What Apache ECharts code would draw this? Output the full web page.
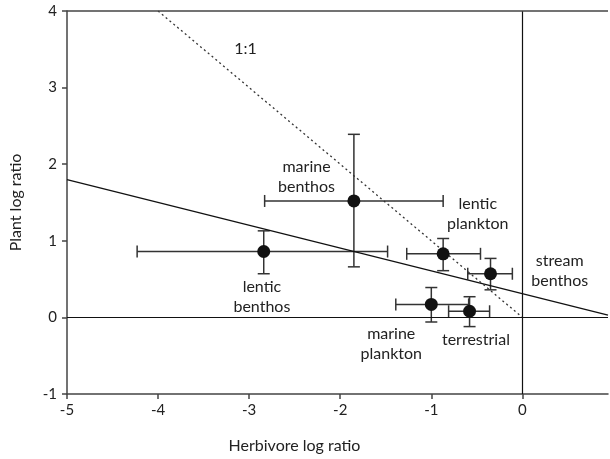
<!DOCTYPE html>
<html>
<head>
<meta charset="utf-8">
<script src="https://cdn.jsdelivr.net/npm/echarts@6/dist/echarts.min.js"></script>
<style>
  html, body { margin: 0; padding: 0; background: #fff; }
  #chart { width: 610px; height: 459px; }
</style>
</head>
<body>
<div id="chart"></div>
<script>
// groups and their means / error ranges (herbivore = x, plant = y)
const groups = ['lentic benthos', 'marine benthos', 'lentic plankton', 'stream benthos', 'marine plankton', 'terrestrial']
const herbMean = [-2.84, -1.85, -0.87, -0.35, -1.0, -0.58]
const herbLow = [-4.23, -2.83, -1.27, -0.6, -1.39, -0.81]
const herbHigh = [-1.48, -0.87, -0.46, -0.11, -0.59, -0.36]
const plantMean = [0.86, 1.52, 0.83, 0.57, 0.17, 0.08]
const plantLow = [0.57, 0.66, 0.61, 0.36, -0.06, -0.12]
const plantHigh = [1.13, 2.39, 1.03, 0.77, 0.39, 0.27]

// regression line and 1:1 line end points
const fitLine = [[-5, 1.8], [0.94, 0.03]]
const oneToOne = [[-4, 4], [0, 0]]

// label anchors (text, x, y)
const labelText = ['marine\nbenthos', 'lentic\nbenthos', 'lentic\nplankton', 'stream\nbenthos', 'marine\nplankton', 'terrestrial', '1:1']
const labelX = [-2.37, -2.86, -0.49, 0.41, -1.44, -0.51, -3.04]
const labelY = [1.83, 0.27, 1.35, 0.61, -0.35, -0.29, 3.51]

const xTicks = { min: -5, max: 0.94, interval: 1 }
const yTicks = { min: -1, max: 4, interval: 1 }

const font = 'Lato'
const textColor = '#222'
const axisColor = '#444'

const chart = echarts.init(document.getElementById('chart'))

const errData = groups.map((g, i) => [herbMean[i], plantMean[i], herbLow[i], herbHigh[i], plantLow[i], plantHigh[i]])

function renderErr(params, api) {
  const c = api.coord([api.value(0), api.value(1)])
  const xl = api.coord([api.value(2), api.value(1)])
  const xh = api.coord([api.value(3), api.value(1)])
  const yl = api.coord([api.value(0), api.value(4)])
  const yh = api.coord([api.value(0), api.value(5)])
  const cap = 6
  const style = { stroke: '#333', lineWidth: 1.5 }
  const line = (x1, y1, x2, y2) => ({ type: 'line', shape: { x1, y1, x2, y2 }, style })
  return {
    type: 'group',
    children: [
      line(xl[0], c[1], xh[0], c[1]),
      line(xl[0], c[1] - cap, xl[0], c[1] + cap),
      line(xh[0], c[1] - cap, xh[0], c[1] + cap),
      line(c[0], yl[1], c[0], yh[1]),
      line(c[0] - cap, yl[1], c[0] + cap, yl[1]),
      line(c[0] - cap, yh[1], c[0] + cap, yh[1]),
    ],
  }
}

const option = {
  backgroundColor: '#fff',
  animation: false,
  grid: { left: 63, right: 2, top: 11, bottom: 64 },
  xAxis: {
    type: 'value',
    min: xTicks.min,
    max: xTicks.max,
    interval: xTicks.interval,
    name: 'Herbivore log ratio',
    nameLocation: 'middle',
    nameGap: 44,
    // the name sits under the -5..0 part of the axis
    nameTextStyle: { fontFamily: font, fontSize: 16, color: textColor, padding: [0, 86, 0, 0] },
    axisLine: { show: true, onZero: false, lineStyle: { color: axisColor, width: 1.5 } },
    axisTick: { show: true, length: 5, lineStyle: { color: axisColor, width: 1.5 } },
    axisLabel: { fontFamily: font, fontSize: 15, color: textColor, margin: 9, showMaxLabel: false },
    splitLine: { show: false },
  },
  yAxis: {
    type: 'value',
    min: yTicks.min,
    max: yTicks.max,
    interval: yTicks.interval,
    name: 'Plant log ratio',
    nameLocation: 'middle',
    nameGap: 43,
    nameTextStyle: { fontFamily: font, fontSize: 16, color: textColor },
    axisLine: { show: true, onZero: false, lineStyle: { color: axisColor, width: 1.5 } },
    axisTick: { show: true, length: 5, lineStyle: { color: axisColor, width: 1.5 } },
    axisLabel: { fontFamily: font, fontSize: 15, color: textColor, margin: 10 },
    splitLine: { show: false },
  },
  series: [
    {
      type: 'line',
      data: fitLine,
      symbol: 'none',
      lineStyle: { color: '#111', width: 1.3 },
      markLine: {
        silent: true,
        symbol: 'none',
        label: { show: false },
        lineStyle: { color: '#111', width: 1.2, type: 'solid' },
        data: [{ xAxis: 0 }, { yAxis: 0 }],
      },
    },
    {
      type: 'line',
      data: oneToOne,
      symbol: 'none',
      lineStyle: { color: '#333', width: 1.3, type: [2, 3] },
      // top frame line
      markLine: {
        silent: true,
        symbol: 'none',
        label: { show: false },
        lineStyle: { color: axisColor, width: 1.5, type: 'solid' },
        data: [{ yAxis: yTicks.max }],
      },
    },
    {
      type: 'custom',
      renderItem: renderErr,
      data: errData,
      z: 3,
    },
    {
      type: 'scatter',
      data: groups.map((g, i) => [herbMean[i], plantMean[i]]),
      symbol: 'circle',
      symbolSize: 13,
      itemStyle: { color: '#111', opacity: 1 },
      z: 4,
    },
    {
      type: 'scatter',
      data: labelText.map((t, i) => ({ value: [labelX[i], labelY[i]], name: t })),
      symbolSize: 0,
      silent: true,
      itemStyle: { opacity: 1 },
      label: {
        show: true,
        position: 'inside',
        formatter: (p) => p.name,
        fontFamily: font,
        fontSize: 16,
        lineHeight: 20,
        color: textColor,
        opacity: 1,
        align: 'center',
        verticalAlign: 'middle',
      },
    },
  ],
}

chart.setOption(option)
</script>
</body>
</html>
